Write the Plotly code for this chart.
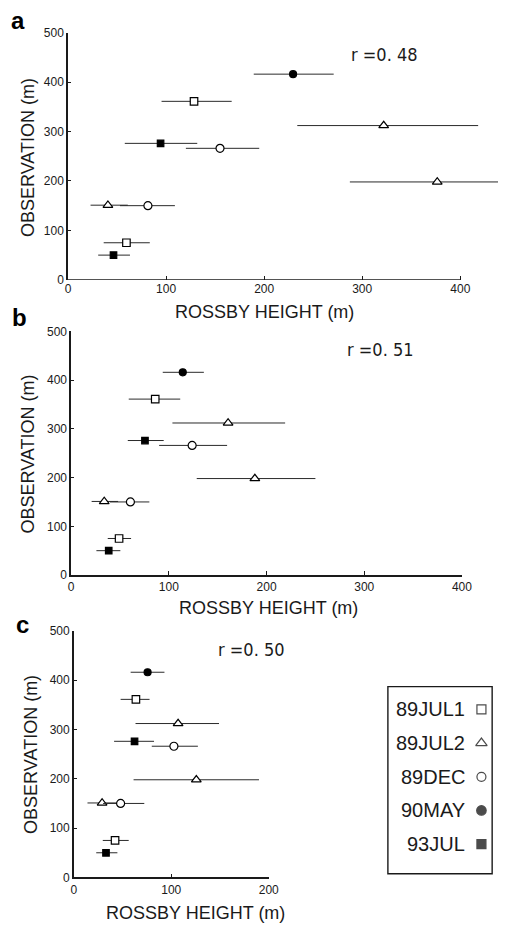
import plotly.graph_objects as go

W, H = 508, 933

# ---------------- data ----------------
series = ["89JUL1", "89JUL2", "89DEC", "90MAY", "93JUL"]

# observed heights (m) per series (same in all panels)
obs_89jul1 = [75, 361]
obs_89jul2 = [151, 198, 312]
obs_89dec = [150, 266]
obs_90may = [416]
obs_93jul = [50, 276]

# Rossby height estimates (value, low, high) per panel
# panel a
a_89jul1 = [59.6, 128.5]; a_89jul1_lo = [36.4, 95.4]; a_89jul1_hi = [83.4, 166.9]
a_89jul2 = [40.7, 376.5, 321.9]; a_89jul2_lo = [23, 287.4, 233.8]; a_89jul2_hi = [61, 470, 418.2]
a_89dec = [81.5, 155]; a_89dec_lo = [53, 120.2]; a_89dec_hi = [109, 195]
a_90may = [229.5]; a_90may_lo = [189.4]; a_90may_hi = [270.9]
a_93jul = [46.4, 94.4]; a_93jul_lo = [30.8, 57.9]; a_93jul_hi = [63.2, 131.8]
# panel b
b_89jul1 = [49, 86]; b_89jul1_lo = [37.4, 58.9]; b_89jul1_hi = [61.3, 111.6]
b_89jul2 = [33.8, 188, 160.6]; b_89jul2_lo = [20.9, 128.5, 103.6]; b_89jul2_hi = [48, 250, 219]
b_89dec = [60.6, 123.8]; b_89dec_lo = [39.7, 90]; b_89dec_hi = [80, 159.6]
b_90may = [114.2]; b_90may_lo = [93.7]; b_90may_hi = [135.8]
b_93jul = [38.4, 75.5]; b_93jul_lo = [25.8, 57.9]; b_93jul_hi = [50.3, 94.7]
# panel c
c_89jul1 = [42.3, 63.7]; c_89jul1_lo = [29.7, 48]; c_89jul1_hi = [56.3, 77.7]
c_89jul2 = [29, 125.7, 107]; c_89jul2_lo = [14, 61.3, 63.3]; c_89jul2_hi = [44, 190, 149]
c_89dec = [48, 102.7]; c_89dec_lo = [30, 80]; c_89dec_hi = [72.3, 127.3]
c_90may = [75.7]; c_90may_lo = [58.3]; c_90may_hi = [93]
c_93jul = [33, 62.3]; c_93jul_lo = [23, 41.3]; c_93jul_hi = [44.7, 82.3]

r_labels = ["r =0. 48", "r =0. 51", "r =0. 50"]
panel_letters = ["a", "b", "c"]
x_ticks_ab = [0, 100, 200, 300, 400]
x_ticks_c = [0, 100, 200]
y_ticks = [0, 100, 200, 300, 400, 500]
x_title = "ROSSBY HEIGHT (m)"
y_title = "OBSERVATION (m)"

# ---------------- styles ----------------
sym = {
    "89JUL1": dict(symbol="square", color="white", size=7.5),
    "89JUL2": dict(symbol="triangle-up", color="white", size=8.5),
    "89DEC": dict(symbol="circle", color="white", size=8),
    "90MAY": dict(symbol="circle", color="black", size=7),
    "93JUL": dict(symbol="square", color="black", size=6.5),
}
INK = "#1a1a1a"
FONT = "Liberation Sans, Arial, Helvetica, sans-serif"
NARROW = "DejaVu Sans Condensed, Liberation Sans Narrow, sans-serif"

def px(x):
    return x / W

def py(y):
    return 1 - y / H

fig = go.Figure()

panels = [
    ("x", "y", {
        "89JUL1": (a_89jul1, a_89jul1_lo, a_89jul1_hi, obs_89jul1),
        "89JUL2": (a_89jul2, a_89jul2_lo, a_89jul2_hi, obs_89jul2),
        "89DEC": (a_89dec, a_89dec_lo, a_89dec_hi, obs_89dec),
        "90MAY": (a_90may, a_90may_lo, a_90may_hi, obs_90may),
        "93JUL": (a_93jul, a_93jul_lo, a_93jul_hi, obs_93jul),
    }),
    ("x2", "y2", {
        "89JUL1": (b_89jul1, b_89jul1_lo, b_89jul1_hi, obs_89jul1),
        "89JUL2": (b_89jul2, b_89jul2_lo, b_89jul2_hi, obs_89jul2),
        "89DEC": (b_89dec, b_89dec_lo, b_89dec_hi, obs_89dec),
        "90MAY": (b_90may, b_90may_lo, b_90may_hi, obs_90may),
        "93JUL": (b_93jul, b_93jul_lo, b_93jul_hi, obs_93jul),
    }),
    ("x3", "y3", {
        "89JUL1": (c_89jul1, c_89jul1_lo, c_89jul1_hi, obs_89jul1),
        "89JUL2": (c_89jul2, c_89jul2_lo, c_89jul2_hi, obs_89jul2),
        "89DEC": (c_89dec, c_89dec_lo, c_89dec_hi, obs_89dec),
        "90MAY": (c_90may, c_90may_lo, c_90may_hi, obs_90may),
        "93JUL": (c_93jul, c_93jul_lo, c_93jul_hi, obs_93jul),
    }),
]

for xa, ya, d in panels:
    for name in series:
        xv, lo, hi, yv = d[name]
        s = sym[name]
        fig.add_trace(go.Scatter(
            x=xv, y=yv, xaxis=xa, yaxis=ya, mode="markers", showlegend=False,
            marker=dict(symbol=s["symbol"], size=s["size"], color=s["color"],
                        line=dict(color="black", width=1.2)),
            error_x=dict(type="data", symmetric=False,
                         array=[h - v for h, v in zip(hi, xv)],
                         arrayminus=[v - l for v, l in zip(xv, lo)],
                         width=0, thickness=1, color="#2a2a2a"),
            cliponaxis=False,
        ))

# legend markers (symbol to the right of text)
fig.add_trace(go.Scatter(
    x=[0] * len(series), y=series, xaxis="x4", yaxis="y4", mode="markers",
    showlegend=False,
    marker=dict(symbol=[sym[n]["symbol"] for n in series],
                size=[9, 10, 9, 9.5, 9],
                color=[sym[n]["color"] for n in series],
                line=dict(color="black", width=1.2)),
))

axis_common = dict(showgrid=False, zeroline=False, ticks="inside",
                   tickfont=dict(family=FONT, size=12, color=INK),
                   linecolor=INK, linewidth=1.5, tickcolor=INK, tickwidth=1.2)

# domains (pixel positions -> paper)
xa_dom = [px(66.7), 1.0]
xb_dom = [px(70), px(471)]
xc_dom = [px(72.7), px(272.7)]
ya_dom = [py(277), py(26)]
yb_dom = [py(576.7), py(329.3)]
yc_dom = [py(883.7), py(633.3)]
xa_max = (W - 66.7) / ((469.3 - 66.7) / 400)

# legend box geometry (pixels): box 395..502, symbol column at 491
LEG_L, LEG_R, LEG_SYM = 395, 502, 491

fig.update_layout(
    width=W, height=H, margin=dict(l=0, r=0, t=0, b=0),
    paper_bgcolor="white", plot_bgcolor="white",
    xaxis=dict(domain=xa_dom, range=[0, xa_max], anchor="y", showline=False,
               tickvals=x_ticks_ab, ticklen=4, **axis_common),
    yaxis=dict(domain=ya_dom, range=[0, 500], anchor="x", showline=True,
               tickvals=y_ticks, ticklen=3, **axis_common),
    xaxis2=dict(domain=xb_dom, range=[0, 400], anchor="y2", showline=True,
                tickvals=x_ticks_ab, ticklen=4, **axis_common),
    yaxis2=dict(domain=yb_dom, range=[0, 500], anchor="x2", showline=True,
                tickvals=y_ticks, ticklen=3, **axis_common),
    xaxis3=dict(domain=xc_dom, range=[0, 200], anchor="y3", showline=True,
                tickvals=x_ticks_c, ticklen=4, **axis_common),
    yaxis3=dict(domain=yc_dom, range=[0, 500], anchor="x3", showline=True,
                tickvals=y_ticks, ticklen=3, **axis_common),
    xaxis4=dict(domain=[px(LEG_L), px(LEG_R)],
                range=[LEG_L - LEG_SYM, LEG_R - LEG_SYM], anchor="y4",
                visible=False, fixedrange=True),
    yaxis4=dict(domain=[py(867), py(696)], anchor="x4", type="category",
                categoryorder="array", categoryarray=series,
                range=[len(series) - 0.5, -0.5], visible=False),
)

shapes = [
    # panel a x-axis line only up to 400
    dict(type="line", xref="x", yref="y", x0=0, x1=400, y0=0, y1=0,
         line=dict(color=INK, width=1.5)),
    # legend box
    dict(type="rect", xref="paper", yref="paper", x0=px(LEG_L), x1=px(LEG_R),
         y0=py(880), y1=py(690), line=dict(color=INK, width=1.4),
         fillcolor="rgba(0,0,0,0)"),
]
fig.update_layout(shapes=shapes)

ann = []
# axis titles
for (cx, cy) in [(268, 310), (272, 610), (198, 920)]:
    ann.append(dict(text=x_title, x=px(cx), y=py(cy), xref="paper", yref="paper",
                    showarrow=False, xanchor="center", yanchor="middle",
                    font=dict(family=FONT, size=18, color=INK)))
for (cx, cy) in [(25, 153), (26, 454), (28, 759)]:
    ann.append(dict(text=y_title, x=px(cx), y=py(cy), xref="paper", yref="paper",
                    showarrow=False, textangle=-90, xanchor="center", yanchor="middle",
                    font=dict(family=FONT, size=18, color=INK)))
# r values
for t, (cx, cy) in zip(r_labels, [(392, 48), (387, 348), (255, 652)]):
    ann.append(dict(text=t, x=px(cx), y=py(cy), xref="paper", yref="paper",
                    showarrow=False, xanchor="center", yanchor="middle",
                    font=dict(family=NARROW, size=18, color=INK)))
# panel letters
for t, (cx, cy) in zip(panel_letters, [(15, 14), (17, 315), (20, 627)]):
    ann.append(dict(text="<b>" + t + "</b>", x=px(cx), y=py(cy), xref="paper", yref="paper",
                    showarrow=False, xanchor="center", yanchor="middle",
                    font=dict(family=FONT, size=24, color="black")))
# legend labels (right-aligned, left of the symbol column)
for n in series:
    ann.append(dict(text=n, x=-15, y=n, xref="x4", yref="y4", showarrow=False,
                    xanchor="right", yanchor="middle",
                    font=dict(family=FONT, size=20, color=INK)))
fig.update_layout(annotations=ann)

fig.write_html("out.html")
